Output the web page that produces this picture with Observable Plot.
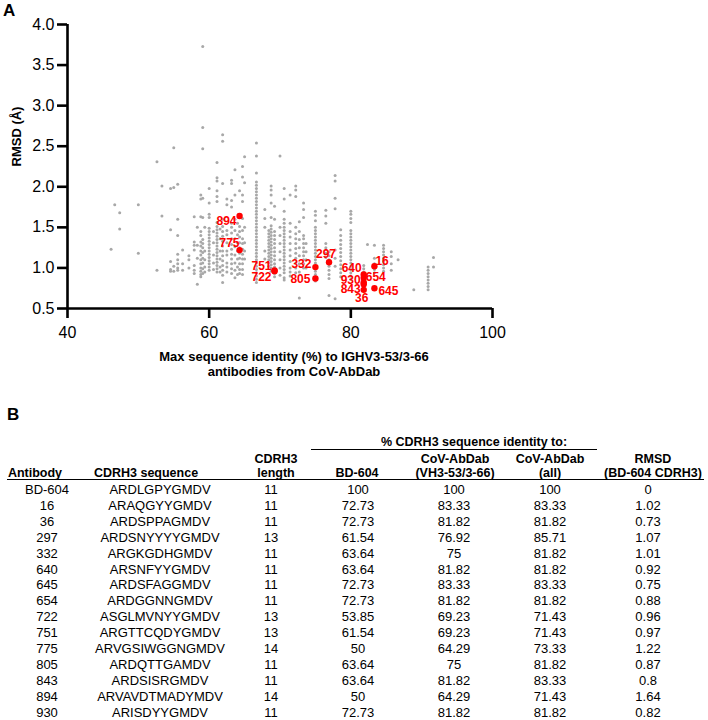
<!DOCTYPE html>
<html><head><meta charset="utf-8">
<script src="https://cdn.jsdelivr.net/npm/d3@7"></script>
<script src="https://cdn.jsdelivr.net/npm/@observablehq/plot@0.6"></script>
<style>
body{margin:0;background:#fff;width:708px;height:720px;position:relative;overflow:hidden;font-family:"Liberation Sans",Arial,sans-serif;color:#000;}
#plot{position:absolute;left:0;top:0;z-index:1;}
.panel{position:absolute;font-weight:bold;font-size:17px;line-height:1;z-index:2;}
.cell{position:absolute;transform:translate(-50%,-50%);white-space:nowrap;font-size:13px;line-height:1;}
.b{font-weight:bold;font-size:12.5px;}
.hr{position:absolute;background:#000;}
</style></head>
<body>
<div id="plot"></div>
<div class="panel" style="left:3px;top:2px">A</div>
<div class="panel" style="left:7px;top:406px">B</div>
<div id="tbl"></div>
<script>
// ---- Panel A: gray background antibodies (x = max identity %, y = RMSD) ----
const grayColumns = [
 [46.15, [1.23]],
 [46.67, [1.78]],
 [47.37, [1.68, 1.48]],
 [50.0, [1.78, 1.18]],
 [52.63, [2.31, 0.97]],
 [53.33, [2.01, 1.64]],
 [54.55, [1.98, 1.47, 1.08, 0.98, 0.96]],
 [55.0, [2.48, 1.99, 1.02, 0.96]],
 [55.56, [2.03, 1.60, 1.40, 1.17, 1.10, 1.05, 1.0, 0.97]],
 [56.25, [1.22, 1.05, 0.97]],
 [57.14, [1.15, 1.10, 1.0]],
 [57.89, [1.63, 1.32, 1.28, 1.22, 1.03, 0.97, 0.93]],
 [58.33, [1.50, 1.28, 1.12, 0.80]],
 [58.82, [1.90, 1.85, 1.63, 1.45, 1.40, 1.32, 1.27, 1.21, 1.16, 1.10, 1.05, 1.00, 0.96, 0.92, 0.89]],
 [59.09, [3.73, 2.73, 2.47, 1.86, 1.62, 1.35, 1.30, 1.25, 1.19, 1.12, 1.06, 0.99, 0.93]],
 [59.38, [1.50, 1.21, 1.10, 1.01, 0.95]],
 [60.0, [1.98, 1.80, 1.66, 1.62, 1.49, 1.45, 1.41, 1.37, 1.33, 1.29, 1.25, 1.21, 1.17, 1.13, 1.09, 1.05, 1.01, 0.97]],
 [60.61, [1.45, 1.31, 1.16, 1.06, 0.98]],
 [61.11, [2.30, 2.11, 2.07, 1.95, 1.88, 1.82, 1.56, 1.51, 1.47, 1.43, 1.39, 1.35, 1.31, 1.27, 1.23, 1.19, 1.15, 1.11, 1.07, 1.03, 0.99, 0.95]],
 [61.54, [1.48, 1.36, 1.21, 1.11, 1.01, 0.95]],
 [61.9, [2.64, 2.56, 2.04, 1.60, 1.51, 1.45, 1.39, 1.33, 1.27, 1.21, 1.15, 1.09, 1.03, 0.97, 0.91, 0.82]],
 [62.5, [1.85, 1.78, 1.46, 1.41, 1.31, 1.21, 1.16, 1.06, 1.01, 0.95]],
 [63.16, [2.08, 2.04, 1.83, 1.75, 1.55, 1.50, 1.43, 1.36, 1.29, 1.23, 1.17, 1.11, 1.05, 0.99, 0.93]],
 [63.64, [2.21, 1.90, 1.60, 1.46, 1.36, 1.26, 1.16, 1.06, 0.97, 0.88]],
 [64.0, [1.55, 1.41, 1.31, 1.21, 1.11, 1.01, 0.92]],
 [64.29, [1.95, 1.51, 1.45, 1.38, 1.31, 1.25, 1.18, 1.12, 1.05, 0.98, 0.93]],
 [64.71, [2.25, 2.12, 1.90, 1.82, 1.61, 1.46, 1.36, 1.30, 1.23, 1.17, 1.11, 1.05, 0.98, 0.92]],
 [65.0, [2.37, 2.05, 1.50, 1.31, 1.21, 1.11]],
 [66.67, [2.54, 2.38, 2.17, 2.06, 2.02, 1.98, 1.94, 1.90, 1.86, 1.82, 1.78, 1.74, 1.70, 1.66, 1.62, 1.58, 1.54, 1.50, 1.46, 1.42, 1.38, 1.34, 1.30, 1.26, 1.22, 1.18, 1.14, 1.10, 1.06, 1.02, 0.98, 0.94, 0.90, 0.86, 0.82]],
 [67.86, [1.72, 1.61, 1.50, 1.21, 1.11]],
 [68.42, [1.46, 1.42, 1.38, 1.34, 1.30, 1.26, 1.22, 1.18, 1.14, 1.10, 1.06, 1.02]],
 [68.75, [2.01, 1.96, 1.90, 1.80, 1.62, 1.52, 1.48, 1.44, 1.40, 1.36, 1.32, 1.28, 1.24, 1.20, 1.16, 1.12, 1.08, 1.04, 1.00, 0.96]],
 [69.23, [1.76, 1.60, 1.45, 1.40, 1.35, 1.30, 1.25, 1.20, 1.15, 1.10, 1.05, 1.01, 0.93, 0.89]],
 [70.0, [2.38, 1.50, 1.40, 1.30, 1.20, 1.10, 1.00, 0.91]],
 [70.59, [1.98, 1.85, 1.70, 1.60, 1.55, 1.50, 1.46, 1.42, 1.38, 1.34, 1.30, 1.26, 1.22, 1.18, 1.14, 1.10, 1.06, 1.02, 0.98, 0.94, 0.88, 0.85]],
 [71.43, [1.90, 1.55, 1.45, 1.38, 1.30, 1.22, 1.15, 1.08, 1.00, 0.95, 0.90]],
 [72.22, [2.01, 1.96, 1.88, 1.50, 1.42, 1.36, 1.30, 1.24, 1.18, 1.12, 1.06, 1.00, 0.94]],
 [72.73, [1.57, 1.45, 1.35, 1.25, 1.15, 1.05, 0.95, 0.63]],
 [73.33, [1.80, 1.72, 1.62, 1.40, 1.36, 1.30, 1.25, 1.20, 1.15, 1.10, 1.05, 1.00]],
 [73.68, [1.30, 1.20, 1.10, 1.00]],
 [75.0, [1.70, 1.65, 1.58, 1.50, 1.46, 1.42, 1.38, 1.34, 1.30, 1.26, 1.22, 1.18, 1.14, 1.10, 1.06, 1.02, 0.96, 0.92, 0.88, 0.84]],
 [76.47, [1.71, 1.64, 1.55, 1.30, 1.25, 1.18, 1.13]],
 [76.92, [1.20, 1.15, 1.10, 1.02, 0.97, 0.92, 0.87, 0.66]],
 [77.78, [2.14, 2.07, 1.86, 1.73, 1.22, 1.12, 1.02, 0.62]],
 [78.57, [1.47, 1.40, 1.34, 1.29, 1.24, 1.19, 1.14, 1.09, 1.04, 0.99, 0.94, 0.89]],
 [80.0, [1.70, 1.66, 1.61, 1.56, 1.46, 1.42, 1.38, 1.34, 1.30, 1.26, 1.22, 1.18, 1.14, 1.10, 1.06, 1.02, 0.98, 0.94, 0.90, 0.86]],
 [81.82, [1.03, 0.99, 0.95, 0.91, 0.86, 0.84, 0.78, 0.76, 0.72]],
 [82.35, [1.29]],
 [83.33, [1.28, 1.12, 1.05, 0.98, 0.94]],
 [84.62, [1.28, 1.24, 1.20, 1.16, 1.12, 1.08, 1.04, 1.00, 0.96]],
 [85.71, [1.20, 1.14, 1.05, 0.97]],
 [86.67, [1.10]],
 [88.89, [0.73]],
 [90.91, [1.01, 0.97, 0.93, 0.89, 0.85, 0.81, 0.77, 0.73]],
 [91.67, [1.13, 1.01]]
];
const xTicks = [40, 60, 80, 100];
const yTicks = [0.5, 1.0, 1.5, 2.0, 2.5, 3.0, 3.5, 4.0];
const xTitle = "Max sequence identity (%) to IGHV3-53/3-66\nantibodies from CoV-AbDab";
const yTitle = "RMSD (Å)";

// ---- Panel B table ----
const antibody = ["BD-604","16","36","297","332","640","645","654","722","751","775","805","843","894","930"];
const sequence = ["ARDLGPYGMDV","ARAQGYYGMDV","ARDSPPAGMDV","ARDSNYYYYGMDV","ARGKGDHGMDV","ARSNFYYGMDV","ARDSFAGGMDV","ARDGGNNGMDV","ASGLMVNYYGMDV","ARGTTCQDYGMDV","ARVGSIWGGNGMDV","ARDQTTGAMDV","ARDSISRGMDV","ARVAVDTMADYMDV","ARISDYYGMDV"];
const cdrh3Length = [11,11,11,13,11,11,11,11,13,13,14,11,11,14,11];
const identityBD604 = [100,72.73,72.73,61.54,63.64,63.64,72.73,72.73,53.85,61.54,50,63.64,63.64,50,72.73];
const identityVH3 = [100,83.33,81.82,76.92,75,81.82,83.33,81.82,69.23,69.23,64.29,75,81.82,64.29,81.82];
const identityAll = [100,83.33,81.82,85.71,81.82,81.82,83.33,81.82,71.43,71.43,73.33,81.82,83.33,71.43,81.82];
const rmsd = [0,1.02,0.73,1.07,1.01,0.92,0.75,0.88,0.96,0.97,1.22,0.87,0.8,1.64,0.82];
const headerTop = ["", "", "CDRH3", "", "CoV-AbDab", "CoV-AbDab", "RMSD"];
const headerBottom = ["Antibody","CDRH3 sequence","length","BD-604","(VH3-53/3-66)","(all)","(BD-604 CDRH3)"];
const groupTitle = "% CDRH3 sequence identity to:";

// ---- build plot ----
const gray = grayColumns.flatMap(([x, ys]) => ys.map(y => ({x, y})));
const red = antibody.map((id, i) => ({id, x: identityVH3[i], y: rmsd[i]})).filter(d => d.id !== "BD-604");

const labelPlacement = {
  "894": ["end", -3, 5], "775": ["end", 0, -7], "751": ["end", -3, -4], "722": ["end", -3, 6],
  "332": ["end", -4, -3], "805": ["end", -5, 1], "297": ["middle", -3, -8], "16": ["start", 1, -5],
  "640": ["end", -2, -6], "654": ["start", 2, -1], "930": ["end", -3, -2], "843": ["end", -3, 5],
  "36": ["middle", -2, 8], "645": ["start", 4, 3]
};
const labelMarks = Object.entries(labelPlacement).map(([id, [anchor, dx, dy]]) =>
  Plot.text(red.filter(d => d.id === id), {x: "x", y: "y", text: "id", textAnchor: anchor, dx, dy,
    fill: "#ff0000", fontWeight: "bold", fontSize: 12}));

const chart = Plot.plot({
  width: 520, height: 390,
  marginLeft: 67, marginRight: 28, marginTop: 24, marginBottom: 82,
  style: {fontFamily: "'Liberation Sans', Arial, sans-serif", background: "transparent", color: "#000"},
  x: {domain: [40, 100], label: null},
  y: {domain: [0.5, 4.0], label: null},
  marks: [
    Plot.dot(gray, {x: "x", y: "y", r: 1.5, fill: "#a8a8a8", stroke: "none"}),
    Plot.ruleY([0.5], {stroke: "#000", strokeWidth: 2.6}),
    Plot.ruleX([40], {stroke: "#000", strokeWidth: 2.6}),
    Plot.axisX({ticks: xTicks, tickSize: 10, tickPadding: 8, fontSize: 16, strokeWidth: 2.6, label: null}),
    Plot.axisY({ticks: yTicks, tickFormat: d3.format(".1f"), tickSize: 10, tickPadding: 3, fontSize: 16, strokeWidth: 2.6, label: null}),
    Plot.text([xTitle], {text: d => d, frameAnchor: "bottom", dx: 14, dy: 67, fontWeight: "bold", fontSize: 13, lineHeight: 1.1}),
    Plot.text([yTitle], {text: d => d, frameAnchor: "left", dx: -51, rotate: -90, fontWeight: "bold", fontSize: 13}),
    Plot.dot(red, {x: "x", y: "y", r: 3.2, fill: "#ff0000", stroke: "none"}),
    ...labelMarks
  ]
});
document.getElementById("plot").appendChild(chart);

// ---- build table ----
const tbl = document.getElementById("tbl");
function cell(text, cx, cy, bold) {
  const d = document.createElement("div");
  d.className = "cell" + (bold ? " b" : "");
  d.textContent = text;
  d.style.left = cx + "px"; d.style.top = cy + "px";
  tbl.appendChild(d);
}
function hline(x, y, w) {
  const d = document.createElement("div");
  d.className = "hr";
  d.style.left = x + "px"; d.style.top = y + "px"; d.style.width = w + "px"; d.style.height = "1.5px";
  tbl.appendChild(d);
}
const headerX = [35, 146, 276, 357, 455, 550, 653];
const dataX = [47, 160, 271, 358, 454, 550, 648];
cell(groupTitle, 474, 442, true);
hline(311, 448.5, 286);
headerTop.forEach((t, j) => { if (t) cell(t, headerX[j], 458.5, true); });
headerBottom.forEach((t, j) => cell(t, headerX[j], 473, true));
hline(7, 478.5, 697);
const columns = [antibody, sequence, cdrh3Length, identityBD604, identityVH3, identityAll, rmsd];
antibody.forEach((_, i) => {
  columns.forEach((col, j) => cell(String(col[i]), dataX[j], 489 + i * 15.9, false));
});
</script>
</body></html>
